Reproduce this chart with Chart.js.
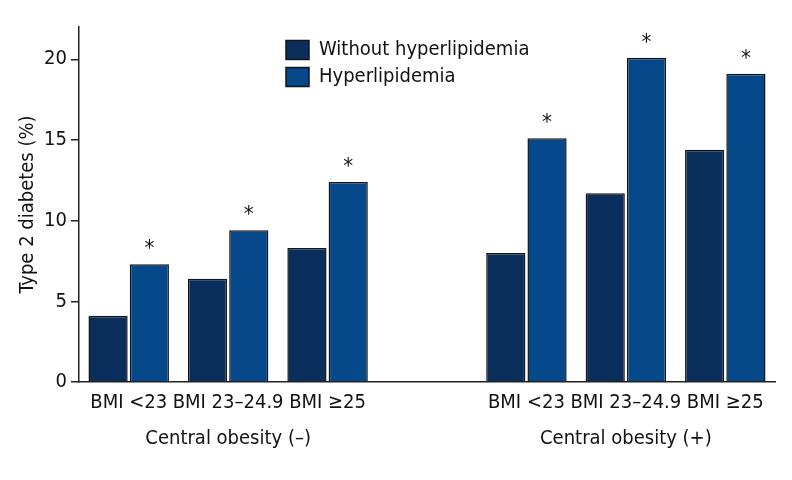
<!DOCTYPE html>
<html>
<head>
<meta charset="utf-8">
<script src="https://cdn.jsdelivr.net/npm/chart.js@4/dist/chart.umd.min.js"></script>
<style>
  html, body { margin: 0; padding: 0; background: #ffffff; }
  #wrap { position: relative; width: 792px; height: 480px; }
</style>
</head>
<body>
<div id="wrap"><canvas id="c" width="792" height="480"></canvas></div>
<script>
// ---- data ----
const categories = ["BMI <23", "BMI 23\u201324.9", "BMI \u226525", "", "BMI <23", "BMI 23\u201324.9", "BMI \u226525"];
const groupLabels = ["", "Central obesity (\u2013)", "", "", "", "Central obesity (+)", ""];
const seriesNames = ["Without hyperlipidemia", "Hyperlipidemia"];
const withoutHyperlipidemia = [4.1, 6.4, 8.3, null, 8.0, 11.7, 14.4];
const hyperlipidemia = [7.3, 9.4, 12.4, null, 15.1, 20.1, 19.1];
const significant = [true, true, true, false, true, true, true];
const yTicks = [0, 5, 10, 15, 20];

const FONT = '"Liberation Sans Narrow", "DejaVu Sans Condensed", "Roboto Condensed", Roboto, sans-serif';
Chart.defaults.font.family = FONT;
Chart.defaults.color = '#111111';

const asteriskPlugin = {
  id: 'asterisks',
  afterDatasetsDraw(chart) {
    const meta = chart.getDatasetMeta(1);
    const ctx = chart.ctx;
    ctx.save();
    ctx.fillStyle = '#111111';
    ctx.font = '22px ' + FONT;
    ctx.textAlign = 'center';
    ctx.textBaseline = 'alphabetic';
    meta.data.forEach((bar, i) => {
      if (!significant[i] || hyperlipidemia[i] == null) return;
      ctx.fillText('*', bar.x, bar.y - 9);
    });
    ctx.restore();
  }
};

const legendPlacer = {
  id: 'legendPlacer',
  afterLayout(chart) {
    const lg = chart.legend;
    if (!lg) return;
    const w = lg.width, h = lg.height;
    lg.left = 279; lg.top = 33;
    lg.right = lg.left + w; lg.bottom = lg.top + h;
  }
};

new Chart(document.getElementById('c'), {
  type: 'bar',
  data: {
    labels: categories,
    datasets: [
      {
        label: seriesNames[0],
        data: withoutHyperlipidemia,
        backgroundColor: '#0a2f5c',
        borderColor: '#151515',
        borderWidth: 1.5,
        categoryPercentage: 0.83,
        barPercentage: 0.95,
        xAxisID: 'x'
      },
      {
        label: seriesNames[1],
        data: hyperlipidemia,
        backgroundColor: '#05498a',
        borderColor: '#151515',
        borderWidth: 1.5,
        categoryPercentage: 0.83,
        barPercentage: 0.95,
        xAxisID: 'x'
      }
    ]
  },
  options: {
    responsive: false,
    animation: false,
    devicePixelRatio: 1,
    layout: { padding: { top: 27, bottom: 26, left: 0, right: 17 } },
    plugins: {
      tooltip: { enabled: false },
      legend: {
        position: 'chartArea',
        align: 'start',
        labels: {
          boxWidth: 23,
          boxHeight: 19,
          padding: 7,
          color: '#111111',
          font: { size: 20 }
        }
      }
    },
    scales: {
      x: {
        type: 'category',
        position: 'bottom',
        offset: true,
        grid: { display: true, drawOnChartArea: false, drawTicks: false },
        border: { display: true, color: '#222222', width: 1.5 },
        ticks: { padding: 9, font: { size: 20 }, color: '#111111', maxRotation: 0, autoSkip: false }
      },
      x2: {
        type: 'category',
        position: 'bottom',
        labels: groupLabels,
        offset: true,
        grid: { display: false, drawTicks: false },
        border: { display: false },
        ticks: { padding: 3, font: { size: 20 }, color: '#111111', maxRotation: 0, autoSkip: false }
      },
      y: {
        min: 0,
        max: 22,
        afterFit(scale) { scale.width = 79; },
        afterBuildTicks(scale) { scale.ticks = yTicks.map(v => ({ value: v })); },
        grid: { display: true, drawOnChartArea: false, drawTicks: true, tickLength: 8, color: '#222222', lineWidth: 1.5 },
        border: { display: true, color: '#222222', width: 1.5 },
        ticks: { padding: 4, font: { size: 20 }, color: '#111111', includeBounds: false },
        title: { display: true, text: 'Type 2 diabetes (%)', color: '#111111', font: { size: 20 }, padding: { top: 16, bottom: 0 } }
      }
    }
  },
  plugins: [asteriskPlugin, legendPlacer]
});
</script>
</body>
</html>
